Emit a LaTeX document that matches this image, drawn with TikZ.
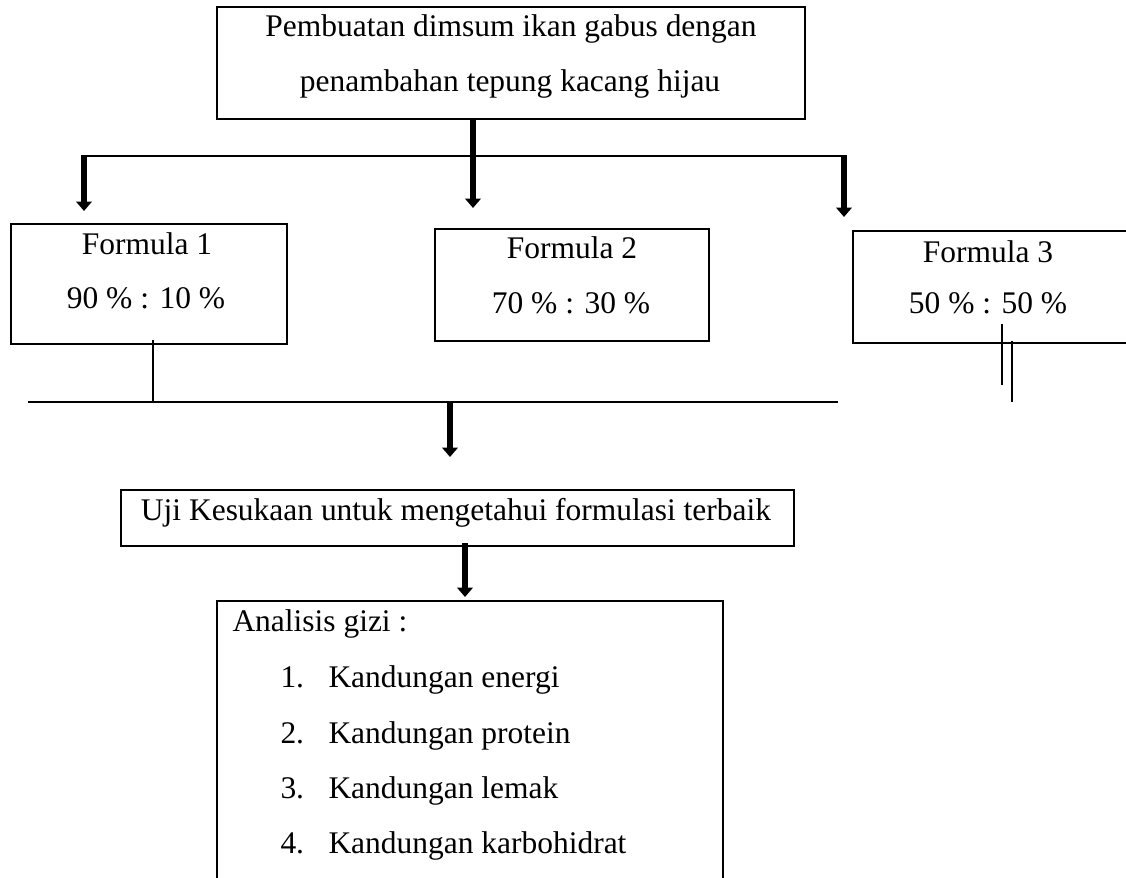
\documentclass[tikz,border=0pt]{standalone}
\usepackage{fontspec}
\setmainfont{Liberation Serif}
\usetikzlibrary{arrows.meta,calc}

\tikzset{every picture/.style={line width=0.75pt}}
\tikzset{
  kotak/.style={draw, line width=1.7pt, rectangle, inner sep=0pt},
  teks/.style={inner sep=0pt, anchor=base, font=\fontsize{23.6}{28}\selectfont},
  teks kiri/.style={teks, anchor=base west},
  panah/.style={line width=4.6pt, -{Triangle[width=11.5pt,length=7pt]}},
  garis/.style={line width=1.5pt},
  garis tebal/.style={line width=1.9pt}
}

\begin{document}
\begin{tikzpicture}[x=0.75pt,y=0.75pt,yscale=-1,xscale=1]
    \useasboundingbox (0,0) rectangle (1126,877);

    %Shape: Rectangle [id:judul]
    \node [kotak, minimum width=441pt, minimum height=84pt] (judul) at (511,63) {};
    %Shape: Rectangle [id:f1]
    \node [kotak, minimum width=207pt, minimum height=90pt] (f1) at (149,284) {};
    %Shape: Rectangle [id:f2]
    \node [kotak, minimum width=205.5pt, minimum height=84pt] (f2) at (572,285) {};
    %Shape: Rectangle [id:f3]
    \node [kotak, minimum width=207pt, minimum height=84pt] (f3) at (991,287) {};
    %Shape: Rectangle [id:uji]
    \node [kotak, minimum width=504.75pt, minimum height=42pt] (uji) at (457.5,518) {};
    %Shape: Rectangle [id:analisis]
    \node [kotak, minimum width=379.5pt, minimum height=240pt] (analisis) at (470,761) {};

    % Coordinates
    \coordinate (ujung1) at (84,211);
    \coordinate (ujung2) at (473,208);
    \coordinate (ujung3) at (844,217);
    \coordinate (batang) at (473,156);
    \coordinate (sambung1) at (153,402);
    \coordinate (bawah-kiri) at (28,402);
    \coordinate (bawah-kanan) at (838,402);
    \coordinate (ujung4) at (450,457);
    \coordinate (garis-a) at (1002,385);
    \coordinate (garis-b) at (1012,402);
    \coordinate (ujung5) at (465,597);

    %Straight Lines [id:cabang]
    \draw [garis tebal] (ujung1 |- batang) -- (ujung3 |- batang) ;
    \draw [panah] ($(judul.south -| ujung2)+(0,-1)$) -- (ujung2) ;
    \draw [panah] ($(ujung1 |- batang)+(0,-1)$) -- (ujung1) ;
    \draw [panah] ($(ujung3 |- batang)+(0,-1)$) -- (ujung3) ;
    %Straight Lines [id:gabung]
    \draw [garis] ($(sambung1 |- f1.south)+(0,-5)$) -- (sambung1) ;
    \draw [garis tebal] (bawah-kiri) -- (bawah-kanan) ;
    \draw [panah] (ujung4 |- bawah-kiri) -- (ujung4) ;
    \draw [garis] ($(garis-a |- f3.south)+(0,-20)$) -- (garis-a) ;
    \draw [garis] ($(garis-b |- f3.south)+(0,-3)$) -- (garis-b) ;
    %Straight Lines [id:lanjut]
    \draw [panah] ($(ujung5 |- uji.south)+(0,-4)$) -- (ujung5) ;

    % Text Node
    \node [teks] (judul-a) at (511,37) {Pembuatan dimsum ikan gabus dengan};
    % Text Node
    \node [teks] (judul-b) at (510,92) {penambahan tepung kacang hijau};
    % Text Node
    \node [teks] (f1-a) at (147,254) {Formula 1};
    % Text Node
    \node [teks] (f1-b) at (146,308) {90 \% : 10 \%};
    % Text Node
    \node [teks] (f2-a) at (572,258) {Formula 2};
    % Text Node
    \node [teks] (f2-b) at (571,313) {70 \% : 30 \%};
    % Text Node
    \node [teks] (f3-a) at (988,262) {Formula 3};
    % Text Node
    \node [teks] (f3-b) at (988,313) {50 \% : 50 \%};
    % Text Node
    \node [teks] (uji-a) at (456,520) {Uji Kesukaan untuk mengetahui formulasi terbaik};
    % Text Node
    \node [teks kiri] (analisis-a) at (232,631) {Analisis gizi :};
    % Text Node
    \node [teks kiri] (no1) at (280,687) {1.};
    \node [teks kiri] (isi1) at (328,687) {Kandungan energi};
    % Text Node
    \node [teks kiri] (no2) at (280,743) {2.};
    \node [teks kiri] (isi2) at (328,743) {Kandungan protein};
    % Text Node
    \node [teks kiri] (no3) at (280,798) {3.};
    \node [teks kiri] (isi3) at (328,798) {Kandungan lemak};
    % Text Node
    \node [teks kiri] (no4) at (280,853) {4.};
    \node [teks kiri] (isi4) at (328,853) {Kandungan karbohidrat};

\end{tikzpicture}
\end{document}
